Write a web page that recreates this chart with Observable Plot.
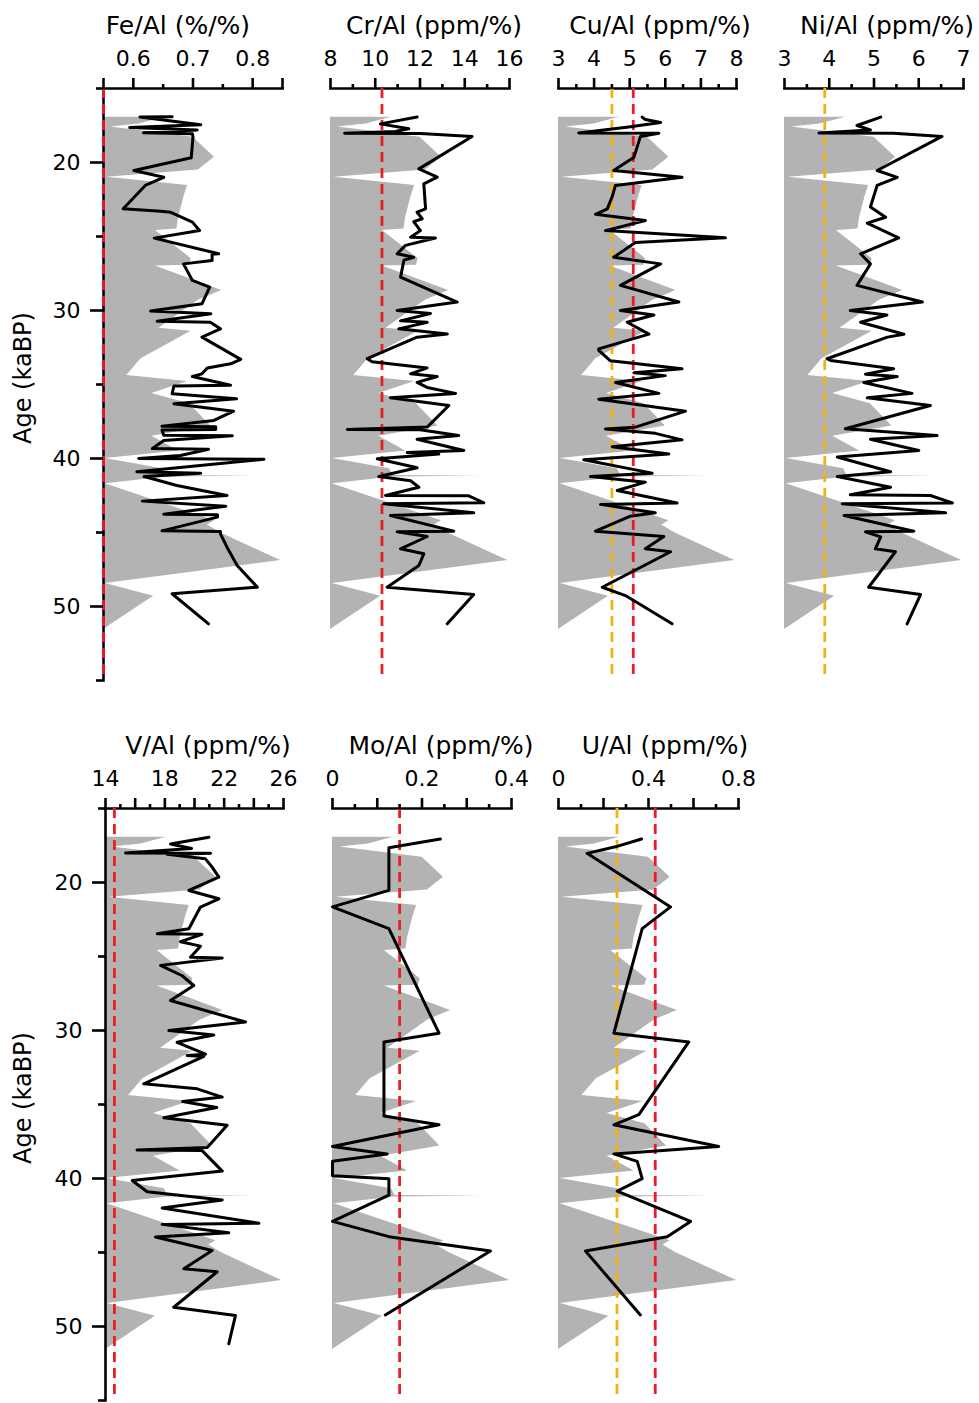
<!DOCTYPE html>
<html><head><meta charset="utf-8">
<script src="https://cdn.jsdelivr.net/npm/d3@7"></script>
<script src="https://cdn.jsdelivr.net/npm/@observablehq/plot@0.6"></script>
<style>
html,body{margin:0;padding:0;background:#fff;overflow:hidden;}
#chart{position:relative;width:979px;height:1403px;font-family:"DejaVu Sans";color:#000;}
.title{position:absolute;width:300px;text-align:center;font-size:25px;line-height:25px;white-space:nowrap;}
.ylab{position:absolute;width:200px;text-align:center;font-size:24px;line-height:24px;white-space:nowrap;transform:rotate(-90deg);transform-origin:center center;}
.panel{position:absolute;}
</style></head><body><div id="chart"></div>
<script>
// ---- shared background proxy (gray area), as fraction of panel width ----
const grayAge  = [16.95,17.4,17.6,18.3,19.64,20.5,21.0,21.55,22.3,23.7,24.5,24.6,26.5,26.95,27.0,28.65,29.3,31.2,31.4,33.26,34.4,34.8,35.6,36.3,37.8,38.5,39.5,40.0,40.7,41.15,41.2,41.25,41.7,44.2,44.5,45.0,46.9,48.45,49.3,51.55];
const grayFrac = [0.34,0.20,0.04,0.50,0.62,0.53,0.02,0.47,0.45,0.42,0.41,0.29,0.49,0.48,0.29,0.66,0.53,0.31,0.49,0.21,0.13,0.47,0.27,0.48,0.60,0.27,0.42,0.01,0.33,0.35,0.84,0.35,0.01,0.62,0.58,0.65,0.99,0.01,0.28,0.0];

// ---- age axis ----
const ageDomain = [15, 55];
const ageMajor = [20, 30, 40, 50];
const ageMinor = [15, 25, 35, 45, 55];

// ---- series: [age (kaBP), ratio] ----
const feAl = [[16.91,0.665],[16.93,0.611],[17.45,0.713],[17.64,0.594],[17.80,0.707],[17.99,0.617],[18.06,0.699],[18.29,0.700],[19.68,0.697],[20.54,0.601],[21.00,0.651],[21.55,0.620],[23.13,0.583],[23.29,0.646],[23.36,0.662],[24.03,0.699],[24.60,0.711],[25.11,0.635],[26.17,0.743],[26.20,0.732],[26.62,0.732],[26.85,0.684],[27.97,0.699],[28.42,0.728],[29.55,0.715],[30.04,0.629],[30.22,0.730],[30.72,0.640],[30.79,0.729],[31.24,0.746],[31.80,0.715],[33.30,0.780],[33.60,0.763],[33.88,0.724],[34.28,0.715],[34.46,0.699],[35.05,0.763],[35.10,0.668],[35.63,0.665],[35.97,0.773],[36.30,0.668],[36.80,0.768],[37.43,0.735],[37.82,0.648],[37.86,0.738],[38.04,0.738],[38.08,0.648],[38.43,0.651],[38.47,0.766],[38.78,0.651],[39.33,0.632],[39.37,0.726],[39.80,0.679],[40.00,0.609],[40.05,0.819],[40.90,0.606],[41.00,0.713],[41.22,0.618],[41.82,0.673],[42.50,0.757],[42.88,0.615],[43.22,0.755],[43.76,0.651],[43.80,0.741],[43.96,0.741],[44.89,0.648],[44.93,0.746],[45.09,0.746],[45.99,0.757],[47.23,0.774],[48.70,0.808],[49.14,0.665],[51.17,0.726]];
const crAl = [[16.93,11.87],[17.39,10.23],[17.72,11.5],[17.9,10.9],[18.02,8.63],[18.04,12.02],[18.24,14.33],[20.43,11.95],[20.99,12.77],[21.44,12.17],[23.13,12.25],[23.36,11.87],[23.8,12.1],[24.0,11.72],[24.6,12.02],[25.05,11.58],[25.1,12.69],[25.6,11.35],[26.17,10.98],[26.4,11.72],[26.6,11.28],[27.75,11.13],[29.43,13.66],[30.0,10.98],[30.2,12.47],[30.7,11.13],[30.8,12.32],[31.24,11.05],[31.58,13.22],[31.8,11.87],[33.26,9.64],[33.46,9.86],[33.88,12.32],[34.28,11.58],[34.46,12.77],[34.86,11.87],[35.2,12.32],[35.6,13.59],[35.9,10.68],[36.42,13.29],[37.88,12.32],[38.04,8.75],[38.06,12.0],[38.45,13.73],[38.7,11.87],[39.46,13.96],[39.6,11.43],[39.7,12.84],[40.02,10.09],[40.63,11.87],[41.22,10.16],[41.5,11.58],[41.94,11.95],[42.5,10.46],[42.52,14.18],[42.99,14.85],[43.05,10.38],[43.67,14.4],[43.85,10.68],[44.91,13.51],[44.95,10.98],[45.27,12.32],[46.1,11.13],[46.44,12.17],[47.23,11.95],[48.7,10.53],[49.19,14.4],[51.17,13.22]];
const cuAl = [[16.93,5.35],[17.1,5.44],[17.3,5.87],[17.6,4.97],[18.0,3.57],[18.02,5.82],[18.25,5.3],[19.64,5.12],[20.54,4.55],[21.0,6.47],[21.55,4.6],[22.3,4.51],[23.13,4.37],[23.5,4.04],[23.92,5.44],[24.6,4.32],[25.09,7.69],[25.4,5.16],[26.4,4.55],[26.85,5.87],[28.3,4.74],[29.43,6.38],[30.0,4.74],[30.3,5.68],[30.79,4.93],[31.6,5.54],[32.59,4.13],[32.7,4.13],[33.4,4.46],[33.94,6.47],[34.2,5.12],[34.4,6.0],[34.86,4.6],[35.6,5.82],[35.99,4.13],[36.8,6.57],[37.88,5.16],[38.0,4.32],[38.3,5.72],[38.74,6.47],[39.2,4.51],[39.69,6.1],[40.09,3.71],[40.99,5.63],[41.22,3.9],[41.6,5.44],[42.16,4.65],[43.01,6.33],[43.1,4.18],[43.67,5.72],[43.9,5.02],[44.91,4.04],[45.27,5.96],[46.1,5.44],[46.3,6.15],[48.7,4.23],[49.26,4.88],[51.17,6.19]];
const niAl = [[16.93,5.15],[17.5,4.62],[17.8,4.92],[18.0,3.77],[18.02,5.44],[18.24,6.52],[20.54,5.07],[21.0,5.52],[21.55,5.07],[23.0,4.92],[23.7,5.26],[24.1,4.85],[25.1,5.55],[26.17,4.7],[26.85,4.92],[28.3,4.62],[29.43,6.08],[30.0,4.47],[30.3,5.29],[30.79,4.7],[31.6,5.67],[31.8,5.3],[33.26,3.95],[33.38,4.03],[33.94,5.44],[34.3,4.81],[34.46,5.52],[34.86,4.77],[35.6,5.85],[35.9,4.85],[36.42,6.26],[37.99,4.36],[38.45,6.41],[38.7,4.92],[39.46,6.0],[39.9,4.18],[40.9,5.37],[41.22,4.18],[41.94,5.37],[42.45,4.47],[42.5,6.26],[43.0,6.75],[43.05,4.29],[43.67,6.6],[43.85,4.33],[44.91,5.89],[44.95,4.81],[45.3,5.15],[46.1,5.03],[46.3,5.48],[48.7,4.88],[49.19,6.04],[51.17,5.74]];
const vAl = [[16.94,20.97],[17.4,18.38],[17.7,19.8],[18.0,15.35],[18.02,21.08],[18.1,18.16],[18.4,20.74],[18.96,21.19],[19.64,21.64],[20.54,19.62],[21.1,21.64],[21.66,20.4],[23.13,19.62],[23.47,17.49],[23.5,20.5],[24.0,19.06],[24.3,20.4],[25.05,19.73],[25.1,21.87],[25.6,17.71],[26.3,19.17],[26.96,19.95],[27.97,18.38],[29.43,23.44],[30.0,18.27],[30.3,21.3],[30.8,18.83],[31.6,20.74],[31.69,19.5],[31.75,20.63],[33.6,16.58],[33.94,20.18],[34.5,21.87],[34.8,19.2],[35.2,21.5],[35.9,17.93],[36.4,22.2],[37.9,20.86],[38.08,16.13],[38.1,20.5],[39.5,21.87],[40.14,15.8],[40.9,16.81],[41.45,21.87],[42.0,17.82],[43.02,24.34],[43.1,17.82],[43.67,22.31],[43.95,17.37],[44.86,21.19],[46.1,19.28],[46.3,21.53],[48.7,18.6],[49.26,22.76],[51.17,22.31]];
const moAl = [[17.06,0.241],[17.65,0.126],[20.53,0.126],[21.65,0.0],[23.12,0.126],[30.18,0.238],[30.77,0.115],[35.78,0.115],[36.37,0.238],[37.84,0.0],[38.34,0.122],[38.84,0.0],[39.81,0.0],[40.01,0.126],[41.13,0.126],[42.9,0.0],[43.93,0.126],[44.9,0.353],[49.22,0.118]];
const uAl = [[17.06,0.369],[17.59,0.253],[18.03,0.127],[21.65,0.498],[23.12,0.372],[30.18,0.246],[30.77,0.579],[35.69,0.357],[36.37,0.246],[37.84,0.712],[38.34,0.246],[38.84,0.35],[40.01,0.372],[40.85,0.261],[42.9,0.587],[43.93,0.483],[44.9,0.12],[49.22,0.364]];

// ---- reference (dashed) values ----
const feRed = [0.55], crRed = [10.3], cuOrange = [4.5], cuRed = [5.1], niOrange = [3.9];
const vRed = [14.6], moRed = [0.15], uOrange = [0.26], uRed = [0.43];

// ---- tick values ----
const feMajor = [0.55,0.6,0.7,0.8,0.85], feMinor = [0.65,0.75], feLabels = [0.6,0.7,0.8];
const crMajor = [8,10,12,14,16], crMinor = [9,11,13,15], crLabels = [8,10,12,14,16];
const cuMajor = [3,4,5,6,7,8], cuMinor = [3.5,4.5,5.5,6.5,7.5], cuLabels = [3,4,5,6,7,8];
const niMajor = [3,4,5,6,7], niMinor = [3.5,4.5,5.5,6.5], niLabels = [3,4,5,6,7];
const vMajor = [14,16,18,20,22,24,26], vMinor = [15,17,19,21,23,25], vLabels = [14,18,22,26];
const moMajor = [0,0.1,0.2,0.3,0.4], moMinor = [0.05,0.15,0.25,0.35], moLabels = [0,0.2,0.4];
const uMajor = [0,0.2,0.4,0.6,0.8], uMinor = [0.1,0.3,0.5,0.7], uLabels = [0,0.4,0.8];

const RED = "#ed1c24", ORANGE = "#f5b014", GRAY = "#b3b3b3";

const rows = {
  top:    {svgTop: 0,   height: 690, marginBottom: 10, titleTop: 13,  ylabCenter: 378},
  bottom: {svgTop: 720, height: 683, marginBottom: 3,  titleTop: 733, ylabCenter: 1098}
};

const panels = [
  {title:"Fe/Al (%/%)",   data:feAl, domain:[0.55,0.85], major:feMajor, minor:feMinor, labels:feLabels, refs:[[feRed,RED]], row:"top", left:103, right:282, yAxis:true,  titleX:178},
  {title:"Cr/Al (ppm/%)", data:crAl, domain:[8,16],      major:crMajor, minor:crMinor, labels:crLabels, refs:[[crRed,RED]], row:"top", left:330, right:509, yAxis:false, titleX:434},
  {title:"Cu/Al (ppm/%)", data:cuAl, domain:[3,8],       major:cuMajor, minor:cuMinor, labels:cuLabels, refs:[[cuOrange,ORANGE],[cuRed,RED]], row:"top", left:558, right:736, yAxis:false, titleX:660},
  {title:"Ni/Al (ppm/%)", data:niAl, domain:[3,7],       major:niMajor, minor:niMinor, labels:niLabels, refs:[[niOrange,ORANGE]], row:"top", left:784, right:963, yAxis:false, titleX:887},
  {title:"V/Al (ppm/%)",  data:vAl,  domain:[14,26],     major:vMajor,  minor:vMinor,  labels:vLabels,  refs:[[vRed,RED]], row:"bottom", left:105, right:283, yAxis:true,  titleX:208},
  {title:"Mo/Al (ppm/%)", data:moAl, domain:[0,0.4],     major:moMajor, minor:moMinor, labels:moLabels, refs:[[moRed,RED]], row:"bottom", left:332, right:511, yAxis:false, titleX:441},
  {title:"U/Al (ppm/%)",  data:uAl,  domain:[0,0.8],     major:uMajor,  minor:uMinor,  labels:uLabels,  refs:[[uOrange,ORANGE],[uRed,RED]], row:"bottom", left:558, right:738, yAxis:false, titleX:665}
];

const chart = document.getElementById("chart");
const gray = grayAge.map((a, i) => ({age: a, f: grayFrac[i]}));

for (const p of panels) {
  const row = rows[p.row];
  const [lo, hi] = p.domain;
  const mL = p.yAxis ? p.left : 30, mR = 16;
  const width = mL + (p.right - p.left) + mR;
  const line = p.data.map(([age, v]) => ({age, v}));
  const marks = [
    Plot.areaX(gray, {y: "age", x1: () => lo, x2: d => lo + d.f * (hi - lo), fill: GRAY}),
    Plot.frame({anchor: "top", strokeWidth: 2.6})
  ];
  if (p.yAxis) marks.push(Plot.frame({anchor: "left", strokeWidth: 2.6}));
  for (const [vals, color] of p.refs) {
    marks.push(Plot.ruleX(vals, {stroke: color, strokeWidth: 2.8, strokeDasharray: "10,6"}));
  }
  marks.push(Plot.line(line, {x: "v", y: "age", stroke: "black", strokeWidth: 3}));
  marks.push(Plot.axisX({anchor: "top", ticks: p.major, tickSize: 11, tickPadding: 12, strokeWidth: 2.6, fontSize: 22,
    tickFormat: d => p.labels.includes(d) ? String(d) : "", label: null}));
  marks.push(Plot.axisX({anchor: "top", ticks: p.minor, tickSize: 5, strokeWidth: 2.6, tickFormat: () => "", label: null}));
  if (p.yAxis) {
    marks.push(Plot.axisY({anchor: "left", ticks: ageMajor, tickSize: 13, tickPadding: 10, strokeWidth: 2.6, fontSize: 22, label: null}));
    marks.push(Plot.axisY({anchor: "left", ticks: ageMinor, tickSize: 7, strokeWidth: 2.6, tickFormat: () => "", label: null}));
  }
  const svg = Plot.plot({
    width, height: row.height,
    marginTop: 88, marginBottom: row.marginBottom, marginLeft: mL, marginRight: mR,
    style: {background: "transparent", overflow: "visible", fontFamily: "DejaVu Sans", color: "black"},
    x: {domain: p.domain},
    y: {domain: ageDomain, reverse: true, axis: p.yAxis ? undefined : null},
    marks
  });
  const wrap = document.createElement("div");
  wrap.className = "panel";
  wrap.style.left = (p.left - mL) + "px";
  wrap.style.top = row.svgTop + "px";
  wrap.appendChild(svg);
  chart.appendChild(wrap);

  const t = document.createElement("div");
  t.className = "title";
  t.textContent = p.title;
  t.style.left = (p.titleX - 150) + "px";
  t.style.top = row.titleTop + "px";
  chart.appendChild(t);

  if (p.yAxis) {
    const yl = document.createElement("div");
    yl.className = "ylab";
    yl.textContent = "Age (kaBP)";
    yl.style.left = (23 - 100) + "px";
    yl.style.top = (row.ylabCenter - 12) + "px";
    chart.appendChild(yl);
  }
}
</script></body></html>
